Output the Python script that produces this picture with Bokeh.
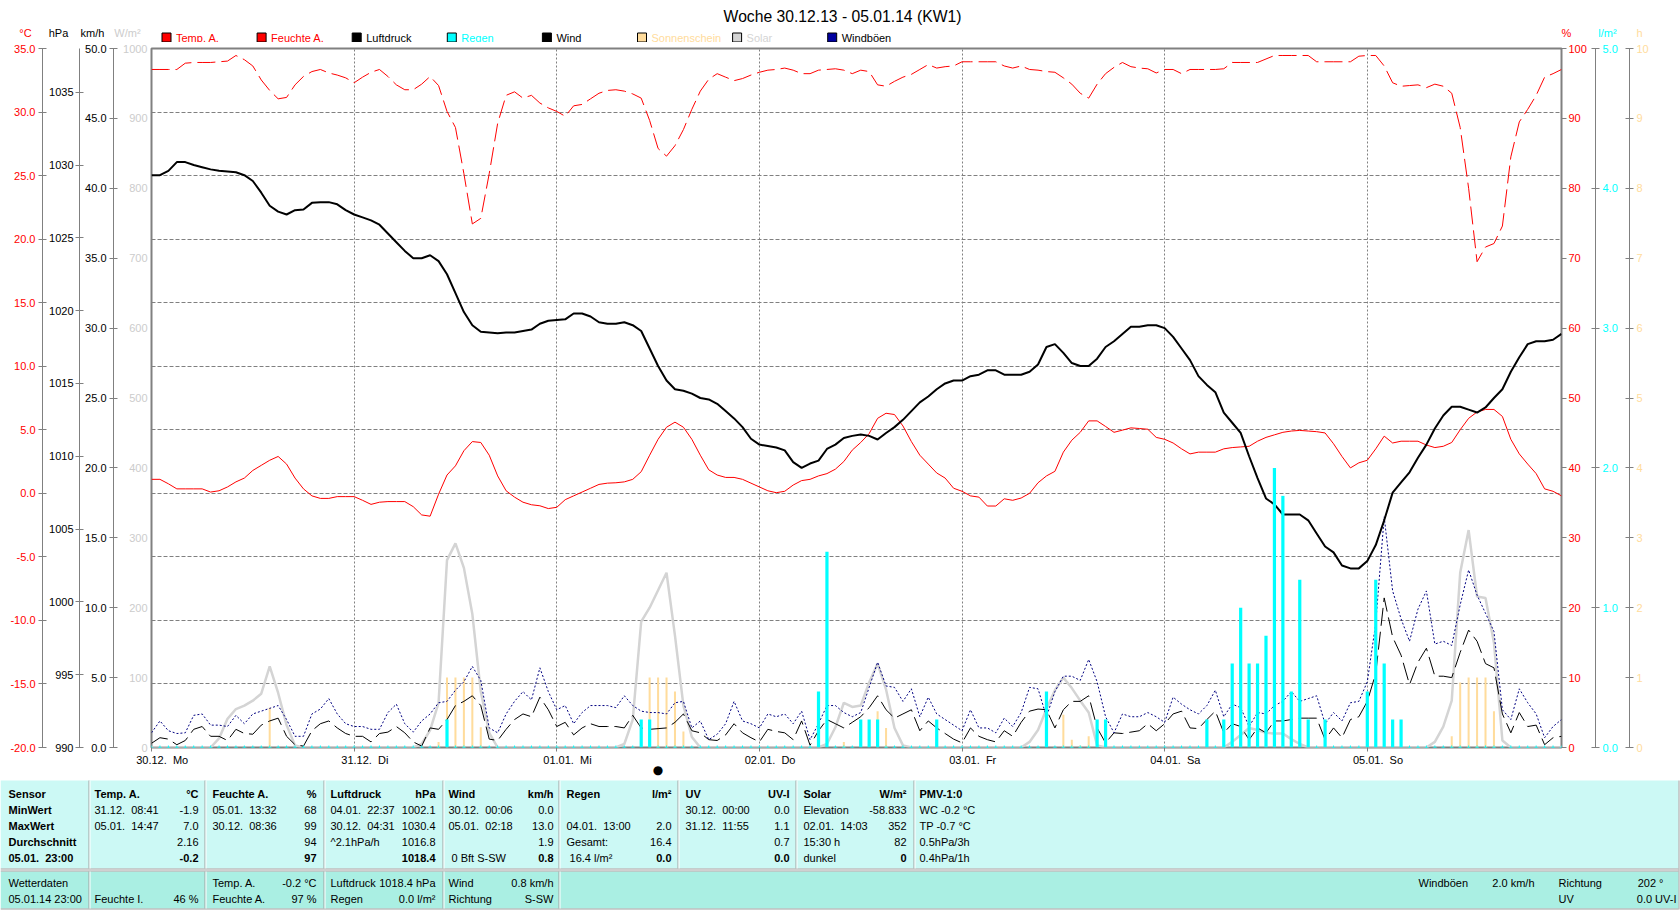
from bokeh.plotting import figure
from bokeh.models import (Range1d, LinearAxis, FixedTicker, Grid, ColumnDataSource, PrintfTickFormatter)
from bokeh.embed import file_html
from bokeh.resources import INLINE
from bokeh.core.properties import value

FONT = "Liberation Sans"
GRAY = "#808080"
RED = "#ff0000"
CYAN = "#00ffff"
SUNC = "#ffdc9c"
SOLC = "#d4d4d4"
GUSTC = "#000080"
NB = "\u00a0"

# ---------------- data (hourly, 30.12.13 00:00 .. 05.01.14 23:00) ----------------
hours = list(range(168))
day_ticks = [0, 24, 48, 72, 96, 120, 144]
day_labels = ["30.12.\u00a0 Mo", "31.12.\u00a0 Di", "01.01.\u00a0 Mi", "02.01.\u00a0 Do",
              "03.01.\u00a0 Fr", "04.01.\u00a0 Sa", "05.01.\u00a0 So"]

temp = [1.1, 1.1, 0.75, 0.35, 0.35, 0.35, 0.35, 0.1, 0.2, 0.5,
        0.9, 1.2, 1.8, 2.2, 2.6, 2.9, 2.3, 1.2, 0.35, -0.2,
        -0.4, -0.4, -0.26, -0.26, -0.26, -0.55, -0.87, -0.7, -0.65, -0.65,
        -0.65, -1.05, -1.7, -1.8, -0.07, 1.44, 2.16, 3.35, 4.07, 4.0,
        3.0, 1.37, 0.2, -0.3, -0.7, -0.9, -0.98, -1.2, -1.1, -0.5,
        -0.2, 0.1, 0.4, 0.7, 0.8, 0.83, 0.9, 1.1, 1.7, 3.0,
        4.25, 5.2, 5.6, 5.2, 4.25, 3.0, 1.85, 1.44, 1.25, 1.25,
        1.1, 0.8, 0.5, 0.2, 0.05, 0.16, 0.65, 1.0, 1.1, 1.37,
        1.55, 1.9, 2.5, 3.4, 4.0, 4.7, 5.9, 6.3, 6.2, 5.3,
        4.07, 3.0, 2.3, 1.6, 1.2, 0.4, 0.16, -0.2, -0.3, -1.0,
        -1.0, -0.43, -0.55, -0.37, 0.0, 0.83, 1.37, 1.73, 3.24, 4.18,
        4.8, 5.7, 5.7, 5.26, 4.8, 4.97, 5.15, 5.1, 5.04, 4.4,
        4.25, 3.96, 3.5, 3.1, 3.24, 3.24, 3.24, 3.5, 3.6, 3.65,
        3.7, 4.1, 4.4, 4.6, 4.8, 4.9, 4.95, 4.9, 4.85, 4.75,
        3.9, 2.9, 2.0, 2.4, 2.6, 3.5, 4.5, 3.96, 4.1, 4.1,
        4.1, 3.8, 3.6, 3.7, 4.0, 5.0, 5.9, 6.4, 6.6, 6.6,
        6.05, 4.25, 3.1, 2.3, 1.55, 0.35, 0.16, -0.2]

hum = [97.0, 97.0, 97.0, 97.0, 97.9, 98.0, 98.0, 98.0, 98.1, 98.2,
       99.0, 98.4, 97.5, 95.5, 94.0, 92.8, 93.0, 94.8, 96.0, 96.7,
       97.0, 96.5, 96.2, 95.8, 95.1, 95.9, 96.6, 97.0, 96.0, 94.8,
       94.1, 94.1, 94.9, 96.0, 94.7, 91.0, 88.7, 82.1, 74.9, 75.7,
       82.1, 89.3, 93.3, 93.8, 92.9, 93.3, 92.2, 91.5, 91.0, 90.3,
       91.8, 92.0, 92.8, 93.6, 94.0, 94.1, 93.9, 93.5, 92.9, 89.7,
       85.7, 84.6, 86.1, 88.4, 91.3, 93.9, 95.6, 96.4, 95.9, 95.4,
       95.7, 96.2, 96.6, 96.9, 97.0, 97.2, 96.9, 96.4, 96.4, 96.9,
       97.0, 97.1, 96.9, 96.4, 96.9, 96.7, 94.8, 94.6, 95.3, 95.9,
       96.3, 97.0, 97.7, 97.2, 97.4, 97.5, 98.1, 98.1, 98.1, 98.1,
       98.1, 97.5, 97.2, 97.5, 97.0, 96.9, 96.7, 96.6, 95.8, 94.9,
       93.6, 92.9, 94.9, 96.4, 97.3, 98.0, 97.4, 97.2, 97.1, 96.5,
       97.0, 97.0, 96.4, 97.0, 97.0, 97.0, 97.0, 97.1, 98.0, 98.0,
       98.0, 98.0, 98.5, 99.0, 99.0, 99.0, 99.0, 99.0, 98.1, 98.1,
       98.1, 98.1, 98.1, 98.9, 99.0, 99.0, 97.5, 95.1, 94.6, 94.7,
       94.8, 94.4, 94.9, 94.6, 93.6, 88.7, 80.0, 69.5, 71.6, 72.1,
       74.6, 84.5, 89.5, 91.3, 93.3, 95.9, 96.4, 97.0]

pres = [1029.3, 1029.3, 1029.6, 1030.2, 1030.2, 1030.0, 1029.85, 1029.7, 1029.6, 1029.55,
        1029.5, 1029.3, 1028.9, 1028.1, 1027.2, 1026.8, 1026.6, 1026.9, 1026.95, 1027.4,
        1027.45, 1027.45, 1027.3, 1026.9, 1026.6, 1026.4, 1026.2, 1025.9, 1025.3, 1024.7,
        1024.1, 1023.6, 1023.6, 1023.8, 1023.4, 1022.5, 1021.2, 1019.9, 1019.0, 1018.55,
        1018.5, 1018.45, 1018.5, 1018.5, 1018.6, 1018.7, 1019.1, 1019.3, 1019.35, 1019.4,
        1019.8, 1019.8, 1019.6, 1019.2, 1019.1, 1019.1, 1019.2, 1019.0, 1018.6, 1017.4,
        1016.2, 1015.2, 1014.6, 1014.5, 1014.3, 1014.0, 1013.9, 1013.6, 1013.1, 1012.6,
        1012.0, 1011.2, 1010.8, 1010.7, 1010.6, 1010.4, 1009.6, 1009.2, 1009.5, 1009.7,
        1010.5, 1010.8, 1011.25, 1011.4, 1011.5, 1011.4, 1011.15, 1011.6, 1012.0, 1012.5,
        1013.1, 1013.7, 1014.1, 1014.6, 1015.0, 1015.2, 1015.2, 1015.5, 1015.6, 1015.9,
        1015.9, 1015.6, 1015.6, 1015.6, 1015.8, 1016.3, 1017.5, 1017.7, 1017.1, 1016.4,
        1016.2, 1016.2, 1016.7, 1017.5, 1017.9, 1018.4, 1018.9, 1018.9, 1019.0, 1019.0,
        1018.8, 1018.2, 1017.4, 1016.6, 1015.5, 1014.9, 1014.4, 1013.0, 1012.3, 1011.6,
        1010.0, 1008.5, 1007.1, 1006.7, 1006.0, 1006.0, 1006.0, 1005.6, 1004.7, 1003.8,
        1003.4, 1002.5, 1002.3, 1002.3, 1002.8, 1003.9, 1005.6, 1007.5, 1008.2, 1008.9,
        1009.9, 1010.8, 1011.9, 1012.8, 1013.4, 1013.4, 1013.2, 1013.0, 1013.35, 1014.0,
        1014.6, 1015.8, 1016.8, 1017.7, 1017.9, 1017.9, 1018.0, 1018.4]

wind = [0.3, 0.7, 0.6, 0.2, 0.5, 1.3, 1.5, 0.8, 0.8, 0.5,
        1.3, 1.0, 0.95, 1.6, 1.9, 2.1, 0.8, 0.2, 0.1, 1.2,
        1.7, 1.9, 1.4, 1.0, 0.8, 0.8, 0.4, 1.0, 1.1, 1.5,
        1.05, 0.4, 0.1, 1.4, 1.3, 2.0, 3.0, 3.3, 3.7, 3.0,
        0.6, 0.5, 1.3, 2.0, 2.4, 2.2, 3.6, 2.7, 1.5, 1.8,
        0.9, 1.4, 1.7, 1.5, 1.5, 1.5, 1.4, 2.3, 1.4, 1.3,
        1.35, 1.4, 1.8, 2.4, 1.2, 1.05, 0.56, 0.5, 0.9, 1.7,
        1.05, 0.7, 0.4, 1.3, 1.15, 1.05, 0.56, 1.9, 0.16, 1.2,
        2.0, 1.7, 1.4, 1.8, 2.2, 2.85, 3.7, 2.7, 2.1, 2.4,
        2.7, 1.2, 1.9, 1.4, 1.0, 0.6, 0.33, 1.4, 0.8, 0.56,
        0.4, 1.2, 0.8, 1.8, 2.6, 2.75, 2.7, 1.4, 2.7, 3.3,
        3.3, 3.7, 1.4, 0.33, 1.05, 1.0, 1.1, 1.2, 1.7, 1.2,
        1.7, 2.4, 2.6, 1.4, 1.35, 2.0, 2.6, 1.05, 1.7, 1.5,
        0.56, 1.4, 1.05, 1.9, 1.9, 2.0, 2.1, 2.1, 2.1, 0.56,
        1.4, 0.7, 2.0, 2.2, 3.3, 5.3, 10.7, 7.9, 6.6, 4.5,
        6.1, 7.1, 5.1, 5.1, 5.0, 6.8, 8.4, 7.6, 6.0, 5.7,
        2.4, 1.05, 2.5, 1.5, 1.6, 0.2, 0.7, 0.8]

gust = [1.05, 1.9, 1.2, 1.0, 1.05, 2.3, 2.4, 1.6, 1.6, 1.5,
        2.3, 1.7, 2.4, 2.6, 2.8, 3.0, 2.0, 0.8, 0.8, 2.4,
        2.75, 3.5, 2.4, 1.7, 1.5, 1.5, 1.3, 1.3, 2.5, 3.1,
        1.7, 1.1, 1.9, 2.4, 3.2, 3.3, 4.1, 4.7, 5.8, 4.8,
        1.4, 1.05, 2.4, 3.3, 4.0, 3.4, 5.7, 4.0, 2.7, 3.0,
        1.7, 2.5, 3.0, 3.0, 3.0, 2.85, 3.7, 3.0, 2.6, 2.5,
        2.5, 2.4, 3.2, 3.3, 1.4, 1.9, 0.56, 0.95, 1.7, 3.3,
        1.9, 1.7, 1.4, 2.4, 2.2, 2.4, 1.7, 2.6, 0.56, 1.7,
        3.0, 3.0, 2.5, 2.2, 2.5, 4.3, 6.1, 4.4, 4.3, 3.3,
        4.2, 2.2, 3.6, 2.4, 2.0, 1.6, 1.2, 2.7, 1.4, 1.4,
        1.05, 2.1, 1.5, 2.5, 4.3, 4.2, 2.2, 4.0, 5.1, 5.1,
        4.8, 6.3, 4.7, 2.2, 1.05, 2.4, 2.2, 2.2, 2.5, 2.2,
        1.8, 3.6, 3.1, 2.7, 2.4, 3.0, 4.1, 2.2, 3.1, 2.85,
        1.5, 2.5, 2.4, 3.0, 3.3, 4.0, 3.3, 3.5, 3.7, 1.7,
        2.5, 1.9, 3.2, 3.3, 4.7, 8.9, 16.5, 11.2, 9.2, 7.6,
        9.9, 11.2, 7.4, 7.6, 7.3, 10.2, 12.7, 10.9, 9.6, 8.3,
        2.7, 2.0, 4.2, 3.2, 2.4, 0.7, 1.5, 2.0]

solar = [0, 0, 0, 0, 0, 0, 0, 0, 13, 41,
         55, 60, 67, 77, 116, 78, 32, 3, 0, 0,
         0, 0, 0, 0, 0, 0, 0, 0, 0, 0,
         0, 0, 5, 25, 64, 268, 292, 257, 191, 80,
         21, 0, 0, 0, 0, 0, 0, 0, 0, 0,
         0, 0, 0, 0, 0, 0, 5, 40, 180, 200,
         225, 250, 160, 60, 15, 0, 0, 0, 0, 0,
         0, 0, 0, 0, 0, 0, 0, 0, 0, 0,
         5, 29, 64, 58, 60, 93, 120, 83, 28, 3,
         0, 0, 0, 0, 0, 0, 0, 0, 0, 0,
         0, 0, 0, 0, 8, 25, 55, 82, 100, 85,
         67, 50, 3, 0, 0, 0, 0, 0, 0, 0,
         0, 0, 0, 0, 0, 0, 0, 0, 8, 18,
         28, 25, 21, 20, 20, 12, 5, 0, 0, 0,
         0, 0, 0, 0, 0, 0, 0, 0, 0, 0,
         0, 0, 8, 30, 67, 250, 311, 216, 214, 150,
         10, 0, 0, 0, 0, 0, 0, 0]

rain_hours = [35, 58, 59, 79, 80, 84, 85, 86, 93, 106, 112, 113, 125, 127, 128, 129, 130,
              131, 132, 133, 134, 135, 136, 137, 139, 144, 145, 146, 147, 148]
rain_vals = [0.2, 0.2, 0.2, 0.4, 1.4, 0.2, 0.2, 0.2, 0.2, 0.4, 0.2, 0.2, 0.2, 0.2, 0.6, 1.0, 0.6,
             0.6, 0.8, 2.0, 1.8, 0.4, 1.2, 0.2, 0.2, 0.4, 1.2, 0.6, 0.2, 0.2]

sun_hours = [14, 34, 35, 36, 37, 38, 39, 59, 60, 61, 62, 63, 82, 86, 87, 108, 109, 110, 111,
             154, 155, 156, 157, 158, 159]
sun_vals = [0.57, 0.08, 1.0, 1.0, 1.0, 1.0, 0.29, 1.0, 1.0, 1.0, 0.8, 0.23, 0.08, 0.52, 0.28,
            0.47, 0.11, 0.03, 0.16, 0.16, 0.93, 1.0, 1.0, 1.0, 0.52]

legend_names = ["Temp. A.", "Feuchte A.", "Luftdruck", "Regen", "Wind", "Sonnenschein", "Solar", "Windböen"]
legend_fill = [RED, RED, "black", CYAN, "black", SUNC, SOLC, "#0000a0"]
legend_text = [RED, RED, "black", CYAN, "black", SUNC, SOLC, "black"]

unit_names = ["°C", "hPa", "km/h", "W/m²", "%", "l/m²", "h"]
unit_colors = [RED, "black", "black", "#cccccc", RED, CYAN, SUNC]

title_text = "Woche 30.12.13 - 05.01.14 (KW1)"
marker_hour = 60

# ================= header strip (title, units, legend) =================
HH = 42
hdr = figure(width=1680, height=HH, x_range=Range1d(0, 1680), y_range=Range1d(HH, 0),
             output_backend="svg", toolbar_location=None, x_axis_location=None, y_axis_location=None,
             min_border=0, min_border_left=0, min_border_right=0, min_border_top=0, min_border_bottom=0,
             outline_line_color=None, background_fill_color="white", border_fill_color="white")
for g in hdr.grid:
    g.visible = False

hdr.text(x=[842], y=[16], text=[title_text], text_align="center", text_baseline="middle",
         text_font=value(FONT), text_font_size="15.7px", text_color="black")
unit_x = [25, 58, 92, 127, 1566, 1607, 1639]
hdr.text(x=unit_x, y=[32] * len(unit_x), text=unit_names, text_color=unit_colors,
         text_align="center", text_baseline="middle", text_font=value(FONT), text_font_size="11px")
box_x = [161.5 + 95.1 * i for i in range(len(legend_names))]
hdr.quad(left=box_x, right=[b + 9 for b in box_x], top=[32.5] * len(box_x), bottom=[41.5] * len(box_x),
         fill_color=legend_fill, line_color="black", line_width=1)
hdr.text(x=[b + 14 for b in box_x], y=[37] * len(box_x), text=legend_names, text_color=legend_text,
         text_align="left", text_baseline="middle", text_font=value(FONT), text_font_size="11px")

# ================= main chart =================
p = figure(width=1680, height=737, x_range=Range1d(0, 167), y_range=Range1d(-20, 35),
           output_backend="svg", toolbar_location=None,
           x_axis_location=None, y_axis_location=None,
           min_border_left=151, min_border_right=119, min_border_top=6, min_border_bottom=31,
           outline_line_color=GRAY, outline_line_width=2,
           background_fill_color="white", border_fill_color="white")
for g in p.grid:
    g.visible = False

p.extra_y_ranges = {"hpa": Range1d(990, 1038), "kmh": Range1d(0, 50), "wm2": Range1d(0, 1000),
                    "hum": Range1d(0, 100), "lm2": Range1d(0, 5), "sun": Range1d(0, 10)}


def yaxis(rng, ticks, fmt, color, tick_in, tick_out, standoff, line=True, ticks_on=True):
    return LinearAxis(y_range_name=rng, ticker=FixedTicker(ticks=ticks),
                      formatter=PrintfTickFormatter(format=fmt),
                      major_tick_in=tick_in, major_tick_out=tick_out,
                      minor_tick_line_color=None,
                      major_tick_line_color=GRAY if ticks_on else None,
                      axis_line_color=GRAY if line else None, axis_line_width=1,
                      major_label_standoff=standoff, major_label_text_color=color,
                      major_label_text_font=FONT, major_label_text_font_size="11px")


# left side, innermost first (no-break spaces on the outer side keep the axes apart)
p.add_layout(yaxis("wm2", list(range(0, 1001, 100)), NB * 2 + "%d", "#cccccc", 0, 0, 4,
                   line=False, ticks_on=False), "left")
p.add_layout(yaxis("kmh", list(range(0, 51, 5)), NB * 1 + "%.1f", "black", 4, 4, 3), "left")
p.add_layout(yaxis("hpa", list(range(990, 1036, 5)), NB * 1 + "%d", "black", 4, 4, 2), "left")
p.add_layout(yaxis("default", list(range(-20, 36, 5)), "%.1f", RED, 4, 4, 3), "left")
# right side, innermost first
p.add_layout(yaxis("hum", list(range(0, 101, 10)), "%d" + NB * 2, RED, 0, 5, 2, line=False), "right")
p.add_layout(yaxis("lm2", [0, 1, 2, 3, 4, 5], "%.1f" + NB * 3, CYAN, 4, 4, 3), "right")
p.add_layout(yaxis("sun", list(range(0, 11)), "%d", SUNC, 4, 4, 3), "right")

# bottom: day ticks with labels (leading no-break spaces push the text right of the tick)
xt = LinearAxis(ticker=FixedTicker(ticks=day_ticks), major_tick_out=4, major_tick_in=0,
                minor_tick_line_color=None, major_tick_line_color=GRAY, axis_line_color=None,
                major_label_overrides={t: NB * 7 + l for t, l in zip(day_ticks, day_labels)},
                major_label_text_font=FONT, major_label_text_font_size="11px",
                major_label_text_color="black", major_label_standoff=2)
p.add_layout(xt, "below")
xd = LinearAxis(ticker=FixedTicker(ticks=[marker_hour]), major_tick_out=0, major_tick_in=0,
                minor_tick_line_color=None, major_tick_line_color=None, axis_line_color=None,
                major_label_overrides={marker_hour: "●"}, major_label_standoff=-6,
                major_label_text_font="DejaVu Sans", major_label_text_font_size="12px",
                major_label_text_color="black")
p.add_layout(xd, "below")

# grids
p.add_layout(Grid(dimension=1, ticker=FixedTicker(ticks=list(range(-15, 31, 5))),
                  grid_line_color=GRAY, grid_line_dash="4 2", grid_line_width=1))
p.add_layout(Grid(dimension=0, ticker=FixedTicker(ticks=day_ticks[1:]),
                  grid_line_color=GRAY, grid_line_dash="2 2", grid_line_width=1))

src = ColumnDataSource(dict(h=hours, temp=temp, hum=hum, pres=pres, wind=wind, gust=gust, solar=solar))
zero_hours = [h for h in hours if h not in rain_hours]

p.line("h", "solar", source=src, y_range_name="wm2", line_color=SOLC, line_width=2.5)
p.vbar(x=sun_hours, top=sun_vals, bottom=0, width=0.24, y_range_name="sun",
       fill_color=SUNC, line_color=None)
p.line("h", "hum", source=src, y_range_name="hum", line_color=RED, line_width=1, line_dash="18 6")
p.line("h", "temp", source=src, line_color=RED, line_width=1)
p.line("h", "wind", source=src, y_range_name="kmh", line_color="black", line_width=1, line_dash="18 6")
p.line("h", "gust", source=src, y_range_name="kmh", line_color=GUSTC, line_width=1, line_dash="2 2")
p.line("h", "pres", source=src, y_range_name="hpa", line_color="black", line_width=2)
p.vbar(x=rain_hours, top=rain_vals, bottom=0, width=0.38, y_range_name="lm2",
       fill_color=CYAN, line_color=None)
p.scatter(x=zero_hours, y=[0] * len(zero_hours), y_range_name="lm2", marker="cross",
          size=4, line_color=CYAN, line_width=1)

# ================= statistics table =================
row_names = ["Sensor", "MinWert", "MaxWert", "Durchschnitt", "05.01.\u00a0 23:00"]
col_heads = ["Temp. A.", "Feuchte A.", "Luftdruck", "Wind", "Regen", "UV", "Solar", "PMV-1:0"]
col_units = ["°C", "%", "hPa", "km/h", "l/m²", "UV-I", "W/m²", ""]
col_left = [["31.12.\u00a0 08:41", "05.01.\u00a0 14:47", "", ""],
            ["05.01.\u00a0 13:32", "30.12.\u00a0 08:36", "", ""],
            ["04.01.\u00a0 22:37", "30.12.\u00a0 04:31", "^2.1hPa/h", ""],
            ["30.12.\u00a0 00:06", "05.01.\u00a0 02:18", "", "\u00a00 Bft S-SW"],
            ["", "04.01.\u00a0 13:00", "Gesamt:", "\u00a016.4 l/m²"],
            ["30.12.\u00a0 00:00", "31.12.\u00a0 11:55", "", ""],
            ["Elevation", "02.01.\u00a0 14:03", "15:30 h", "dunkel"],
            ["WC -0.2 °C", "TP -0.7 °C", "0.5hPa/3h", "0.4hPa/1h"]]
col_right = [["-1.9", "7.0", "2.16", "-0.2"],
             ["68", "99", "94", "97"],
             ["1002.1", "1030.4", "1016.8", "1018.4"],
             ["0.0", "13.0", "1.9", "0.8"],
             ["", "2.0", "16.4", "0.0"],
             ["0.0", "1.1", "0.7", "0.0"],
             ["-58.833", "352", "82", "0"],
             ["", "", "", ""]]
now_left = [("Wetterdaten", 0, 0), ("05.01.14 23:00", 0, 1), ("Feuchte I.", 1, 1),
            ("Temp. A.", 2, 0), ("Feuchte A.", 2, 1), ("Luftdruck", 3, 0), ("Regen", 3, 1),
            ("Wind", 4, 0), ("Richtung", 4, 1)]
now_right = [("46 %", 1, 1), ("-0.2 °C", 2, 0), ("97 %", 2, 1), ("1018.4 hPa", 3, 0),
             ("0.0 l/m²", 3, 1), ("0.8 km/h", 4, 0), ("S-SW", 4, 1)]
extra_left = [("Windböen", 1418, 0), ("Richtung", 1558, 0), ("UV", 1558, 1)]
extra_right = [("2.0 km/h", 1534, 0), ("202 °", 1663, 0), ("0.0 UV-I", 1676, 1)]

# table layout (pixels)
TH = 131
row_y = [14, 30, 46, 62, 78]
low_y = [103, 119]
col_xl = [94, 212, 330, 448, 566, 685, 803, 919]
col_xr = [198, 316, 435, 553, 671, 789, 906, 1000]
low_xl = [8, 94, 212, 330, 448]
low_xr = [88, 198, 316, 435, 553]
dividers_top = [88, 204, 323, 442, 558, 677, 795, 913]
dividers_low = [88, 204, 323, 442, 558]

t = figure(width=1680, height=TH, x_range=Range1d(0, 1680), y_range=Range1d(TH, 0),
           output_backend="svg", toolbar_location=None, x_axis_location=None, y_axis_location=None,
           min_border=0, min_border_left=0, min_border_right=0, min_border_top=0, min_border_bottom=0,
           outline_line_color=None, background_fill_color="white", border_fill_color="white")
for g in t.grid:
    g.visible = False

t.quad(left=[0, 0], right=[1678, 1678], top=[1, 92], bottom=[89, 129],
       fill_color=["#ccf9f5", "#aaefe3"], line_color=None)
t.segment(x0=[0, 0, 0], x1=[1678, 1678, 1678], y0=[89.5, 91.5, 129.5], y1=[89.5, 91.5, 129.5],
          line_color="#a0a0a0", line_width=1)
t.segment(x0=[1678.5], x1=[1678.5], y0=[1], y1=[130], line_color="#a0a0a0", line_width=1)
t.segment(x0=[d + 0.5 for d in dividers_top], x1=[d + 0.5 for d in dividers_top],
          y0=[1] * len(dividers_top), y1=[89] * len(dividers_top), line_color="#a0a0a0")
t.segment(x0=[d + 1.5 for d in dividers_top], x1=[d + 1.5 for d in dividers_top],
          y0=[1] * len(dividers_top), y1=[89] * len(dividers_top), line_color="white")
t.segment(x0=[d + 0.5 for d in dividers_low], x1=[d + 0.5 for d in dividers_low],
          y0=[92] * len(dividers_low), y1=[129] * len(dividers_low), line_color="#a0a0a0")
t.segment(x0=[d + 1.5 for d in dividers_low], x1=[d + 1.5 for d in dividers_low],
          y0=[92] * len(dividers_low), y1=[129] * len(dividers_low), line_color="white")

groups = {("left", "bold"): ([], [], []), ("left", "normal"): ([], [], []),
          ("right", "bold"): ([], [], []), ("right", "normal"): ([], [], [])}


def put(x, y, s, align, style):
    if s:
        g = groups[(align, style)]
        g[0].append(x); g[1].append(y); g[2].append(s)


for i, s in enumerate(row_names):
    put(8, row_y[i], s, "left", "bold")
for c in range(len(col_heads)):
    put(col_xl[c], row_y[0], col_heads[c], "left", "bold")
    put(col_xr[c], row_y[0], col_units[c], "right", "bold")
    for r in range(4):
        put(col_xl[c], row_y[r + 1], col_left[c][r], "left", "normal")
        put(col_xr[c], row_y[r + 1], col_right[c][r], "right", "bold" if r == 3 else "normal")
for s, c, r in now_left:
    put(low_xl[c], low_y[r], s, "left", "normal")
for s, c, r in now_right:
    put(low_xr[c], low_y[r], s, "right", "normal")
for s, x, r in extra_left:
    put(x, low_y[r], s, "left", "normal")
for s, x, r in extra_right:
    put(x, low_y[r], s, "right", "normal")

for (align, style), (xs, ys, ss) in groups.items():
    t.text(x=xs, y=ys, text=ss, text_align=align, text_baseline="middle",
           text_font=value(FONT), text_font_size="11px", text_font_style=style, text_color="black")

# three separate roots stacked on the page (no frame alignment between them)
open("out.html", "w").write(file_html([hdr, p, t], INLINE, title=title_text))
